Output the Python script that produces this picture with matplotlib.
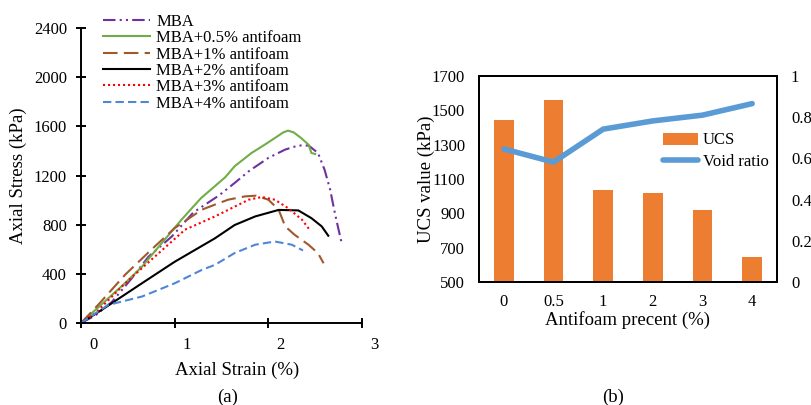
import matplotlib
matplotlib.use("Agg")
import matplotlib.pyplot as plt
import matplotlib.transforms as mtransforms
from matplotlib.patches import Patch
from matplotlib.lines import Line2D

plt.rcParams['font.family'] = ['Liberation Serif', 'DejaVu Serif']
plt.rcParams['font.size'] = 12

# Panel (a): stress-strain curves (strain %, stress kPa)
mba_strain = [0, 0.15, 0.33, 0.54, 0.72, 0.97, 1.2, 1.47, 1.64, 1.79, 2.0, 2.18, 2.32, 2.43, 2.53, 2.60, 2.66, 2.71, 2.75, 2.78]
mba_stress = [0, 60, 172, 362, 539, 704, 900, 1036, 1139, 1234, 1343, 1411, 1444, 1444, 1383, 1248, 1085, 895, 759, 660]

af05_strain = [0, 0.15, 0.47, 0.65, 0.86, 1.07, 1.28, 1.54, 1.64, 1.82, 1.96, 2.07, 2.16, 2.21, 2.27, 2.35, 2.43, 2.46, 2.50]
af05_stress = [0, 104, 324, 457, 648, 838, 1015, 1186, 1275, 1383, 1450, 1505, 1551, 1565, 1551, 1505, 1450, 1383, 1375]

af1_strain = [0, 0.18, 0.47, 0.75, 1.0, 1.29, 1.43, 1.57, 1.75, 1.87, 2.0, 2.11, 2.18, 2.28, 2.43, 2.53, 2.59]
af1_stress = [0, 145, 392, 596, 772, 922, 963, 1003, 1030, 1036, 1003, 922, 786, 718, 636, 568, 486]

af2_strain = [0, 0.22, 0.65, 1.0, 1.43, 1.64, 1.86, 2.11, 2.32, 2.46, 2.57, 2.64]
af2_stress = [0, 106, 323, 498, 689, 797, 867, 920, 916, 853, 786, 710]

af3_strain = [0, 0.15, 0.47, 0.75, 1.11, 1.43, 1.61, 1.79, 1.93, 2.07, 2.21, 2.36, 2.44]
af3_stress = [0, 77, 322, 514, 759, 867, 935, 1003, 1025, 1003, 935, 840, 759]

af4_strain = [0, 0.29, 0.65, 1.0, 1.29, 1.43, 1.64, 1.86, 2.07, 2.25, 2.37]
af4_stress = [0, 147, 215, 323, 432, 473, 569, 637, 663, 637, 590]

# Panel (b): UCS and void ratio
antifoam_labels = ['0', '0.5', '1', '2', '3', '4']
ucs = [1443, 1561, 1035, 1021, 920, 648]
void_ratio = [0.646, 0.582, 0.742, 0.782, 0.81, 0.866]

fig = plt.figure(figsize=(8.11, 4.05), dpi=100)

# ---------- panel (a) ----------
ax = fig.add_axes([81/811, 1 - 323/405, 281/811, 295/405])
ax.plot(mba_strain, mba_stress, color='#7030A0', lw=1.5, ls=(0, (6, 2, 1, 2, 1, 2)), label='MBA')
ax.plot(af05_strain, af05_stress, color='#70AD47', lw=1.5, ls='-', label='MBA+0.5% antifoam')
ax.plot(af1_strain, af1_stress, color='#9E5A2E', lw=1.5, ls=(0, (7, 3)), label='MBA+1% antifoam')
ax.plot(af2_strain, af2_stress, color='black', lw=1.5, ls='-', label='MBA+2% antifoam')
ax.plot(af3_strain, af3_stress, color='#FF0000', lw=1.5, ls=(0, (1, 1.4)), label='MBA+3% antifoam')
ax.plot(af4_strain, af4_stress, color='#4F86D6', lw=1.5, ls=(0, (4, 2)), label='MBA+4% antifoam')

ax.set_xlim(0, 3)
ax.set_ylim(0, 2400)
ax.set_xticks([0, 1, 2, 3])
ax.set_yticks(range(0, 2401, 400))
for s in ['top', 'right']:
    ax.spines[s].set_visible(False)
for s in ['left', 'bottom']:
    ax.spines[s].set_linewidth(1.4)
ax.tick_params(direction='inout', length=7.2, width=1.4, pad=6.5, labelsize=12)
shift = mtransforms.ScaledTranslation(12/100, 0, fig.dpi_scale_trans)
for lab in ax.get_xticklabels():
    lab.set_transform(lab.get_transform() + shift)

ax.set_xlabel('Axial Strain (%)', fontsize=13.5)
ax.xaxis.set_label_coords((237 - 81) / 281, (323 - 370) / 295)
ax.xaxis.label.set_verticalalignment('center')
ax.set_ylabel('Axial Stress (kPa)', fontsize=13.5)
ax.yaxis.set_label_coords((18 - 81) / 281, 0.5)
ax.yaxis.label.set_verticalalignment('center')

ax.legend(loc='upper left', bbox_to_anchor=(103/811, 1 - 14/405), bbox_transform=fig.transFigure,
          frameon=False, fontsize=12, handlelength=2.8, handletextpad=0.4,
          labelspacing=0.02, borderpad=0, borderaxespad=0)

fig.text(228/811, 1 - 397/405, '(a)', ha='center', va='center', fontsize=13.5)

# ---------- panel (b) ----------
bx = fig.add_axes([479/811, 1 - 282/405, 298/811, 206/405])
xpos = list(range(len(antifoam_labels)))
bx.bar(xpos, ucs, width=0.39, color='#ED7D31', zorder=2)
bx.set_xlim(-0.5, 5.5)
bx.set_ylim(500, 1700)
bx.set_yticks(range(500, 1701, 200))
bx.set_xticks(xpos)
bx.set_xticklabels(antifoam_labels)
bx.tick_params(axis='x', length=0, pad=8.6, labelsize=12)
bx.tick_params(axis='y', length=0, pad=10, labelsize=12)
for s in bx.spines.values():
    s.set_linewidth(1.4)

bx2 = bx.twinx()
bx2.plot(xpos, void_ratio, color='#5B9BD5', lw=4, solid_capstyle='round', solid_joinstyle='round', zorder=3)
bx2.set_ylim(0, 1)
bx2.set_yticks([0, 0.2, 0.4, 0.6, 0.8, 1])
bx2.set_yticklabels(['0', '0.2', '0.4', '0.6', '0.8', '1'])
bx2.tick_params(axis='y', length=0, pad=10, labelsize=12)
for s in bx2.spines.values():
    s.set_linewidth(1.4)

bx.set_xlabel('Antifoam precent (%)', fontsize=13.5)
bx.xaxis.set_label_coords((627.5 - 479) / 298, (282 - 320) / 206)
bx.xaxis.label.set_verticalalignment('center')
bx.set_ylabel('UCS value (kPa)', fontsize=13.5)
bx.yaxis.set_label_coords((426 - 479) / 298, 0.5)
bx.yaxis.label.set_verticalalignment('center')

handles = [Patch(facecolor='#ED7D31'),
           Line2D([], [], color='#5B9BD5', lw=4, solid_capstyle='round')]
bx2.legend(handles, ['UCS', 'Void ratio'], loc='center left',
           bbox_to_anchor=(663/811, 1 - 151/405), bbox_transform=fig.transFigure,
           frameon=False, fontsize=12, handlelength=2.1, handletextpad=0.3,
           labelspacing=0.3, borderpad=0, borderaxespad=0)

fig.text(613/811, 1 - 397/405, '(b)', ha='center', va='center', fontsize=13.5)

fig.savefig('out.png', dpi=100)
